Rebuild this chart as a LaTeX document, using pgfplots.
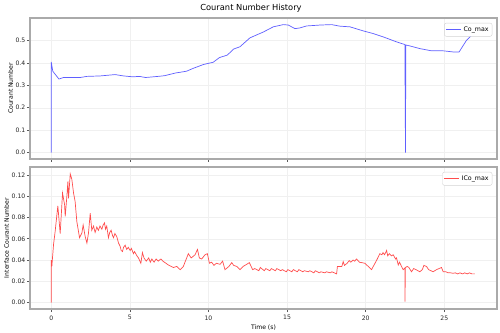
\documentclass[border=0pt]{standalone}
\usepackage{fontspec}
\setmainfont{DejaVu Sans}
\usepackage{pgfplots}
\pgfplotsset{compat=1.18}
\definecolor{coblue}{RGB}{95,95,255}
\definecolor{cored}{RGB}{255,77,77}
\definecolor{frame}{RGB}{170,170,170}
\pgfplotsset{
  base/.style={
    scale only axis,
    width=467pt,
    xmin=-1.35, xmax=28.35,
    xtick={0,5,10,15,20,25},
    axis line style={frame, line width=1.1pt},
    grid=major,
    major grid style={gray!12, line width=0.5pt},
    tick align=outside,
    xtick pos=bottom, ytick pos=left,
    major tick length=3pt,
    tick style={gray!70!black, line width=0.6pt},
    tick label style={font=\fontsize{6.1}{7}\selectfont, text=black!85},
    yticklabel style={inner sep=1.5pt},
    label style={font=\fontsize{6.1}{7}\selectfont},
    ylabel style={inner sep=1pt},
    /pgf/number format/assume math mode=true,
    legend style={at={(0.99,0.965)}, anchor=north east, draw=gray!35, rounded corners=2pt,
      font=\fontsize{6.3}{7}\selectfont, inner sep=1.5pt, row sep=0pt},
    legend cell align=left,
    legend image code/.code={\draw[#1] (0pt,0pt) -- (15pt,0pt);},
  }
}
\begin{document}
\begin{tikzpicture}
\useasboundingbox (0,0) rectangle (500pt,332pt);
\node[font=\fontsize{8.3}{10}\selectfont] at (251pt,324pt) {Courant Number History};
\begin{axis}[base,
  at={(30pt,173pt)}, anchor=south west,
  height=141pt,
  ymin=-0.0286, ymax=0.6005,
  ytick={0,0.1,0.2,0.3,0.4,0.5},
  yticklabel style={/pgf/number format/.cd, fixed, fixed zerofill, precision=1},
  xticklabels={},
  ylabel={Courant Number},
]
\addlegendimage{draw=coblue, line width=0.7pt}
\addlegendentry{Co\_max}
\addplot[draw=coblue, line width=0.7pt, forget plot] coordinates {
(0,0) (0,0.405) (0.1,0.363) (0.49,0.328) (0.78,0.335) (1.85,0.335) (2.27,0.340) (3.12,0.342)
(4.06,0.348) (4.6,0.342) (5.2,0.338) (5.6,0.340) (6.0,0.335) (6.8,0.340) (7.2,0.343) (7.9,0.355)
(8.6,0.363) (9.0,0.375) (9.68,0.393) (10.3,0.403) (10.7,0.424) (11.2,0.435) (11.6,0.462)
(12.0,0.472) (12.64,0.512) (13.49,0.538) (14.12,0.561) (14.76,0.571) (15.08,0.569) (15.5,0.553)
(15.8,0.556) (16.24,0.565) (17.09,0.569) (17.83,0.571) (18.36,0.564) (19.0,0.561) (19.84,0.543)
(20.48,0.531) (21.12,0.516) (21.96,0.494) (22.49,0.482) (22.53,0.0) (22.55,0.480) (22.8,0.476)
(23.44,0.464) (24.19,0.454) (24.93,0.454) (25.56,0.449) (25.94,0.449) (26.41,0.501) (26.9,0.535)
};
\end{axis}
\begin{axis}[base,
  at={(30pt,23pt)}, anchor=south west,
  height=142pt,
  ymin=-0.0060, ymax=0.1275,
  ytick={0,0.02,0.04,0.06,0.08,0.10,0.12},
  yticklabel style={/pgf/number format/.cd, fixed, fixed zerofill, precision=2},
  xticklabel style={/pgf/number format/.cd, fixed, precision=0},
  ylabel={Interface Courant Number},
  xlabel={Time (s)},
  xlabel style={inner sep=1pt},
]
\addlegendimage{draw=cored, line width=0.7pt}
\addlegendentry{ICo\_max}
\addplot[draw=cored, line width=0.7pt, forget plot] coordinates {
(0,0) (0,0.040) (0.04,0.034) (0.08,0.042) (0.15,0.055) (0.25,0.067) (0.42,0.091) (0.57,0.065)
(0.72,0.103) (0.85,0.092) (0.89,0.081) (1.0,0.101) (1.06,0.114) (1.1,0.098) (1.21,0.121)
(1.31,0.116) (1.42,0.103) (1.52,0.095) (1.63,0.076) (1.80,0.061) (1.95,0.0655) (2.03,0.073)
(2.16,0.062) (2.27,0.056) (2.37,0.0655) (2.48,0.084) (2.58,0.068) (2.69,0.072) (2.79,0.066)
(2.9,0.071) (3.0,0.068) (3.1,0.072) (3.22,0.069) (3.3,0.073) (3.39,0.075) (3.45,0.069)
(3.53,0.072) (3.64,0.061) (3.72,0.066) (3.81,0.068) (3.9,0.063) (3.96,0.061) (4.05,0.065)
(4.17,0.062) (4.28,0.056) (4.38,0.053) (4.45,0.049) (4.53,0.048) (4.60,0.052) (4.70,0.054)
(4.8,0.050) (4.9,0.052) (5.02,0.049) (5.1,0.051) (5.23,0.046) (5.3,0.048) (5.45,0.044)
(5.55,0.042) (5.70,0.037) (5.80,0.047) (5.9,0.042) (6.04,0.039) (6.2,0.042) (6.3,0.038)
(6.4,0.041) (6.54,0.038) (6.67,0.041) (6.8,0.039) (6.97,0.041) (7.1,0.039) (7.45,0.0354)
(7.77,0.033) (7.98,0.034) (8.2,0.031) (8.4,0.034) (8.72,0.046) (8.9,0.042) (9.15,0.045)
(9.30,0.050) (9.42,0.042) (9.57,0.041) (9.78,0.045) (9.93,0.046) (10.06,0.037) (10.2,0.038)
(10.35,0.035) (10.5,0.037) (10.74,0.036) (10.9,0.039) (11.05,0.031) (11.3,0.034) (11.48,0.0376)
(11.6,0.035) (11.8,0.034) (12.0,0.031) (12.2,0.034) (12.43,0.036) (12.6,0.0376) (12.81,0.031)
(12.95,0.032) (13.2,0.030) (13.3,0.033) (13.55,0.030) (13.65,0.032) (13.9,0.030) (14.0,0.032)
(14.25,0.030) (14.35,0.032) (14.6,0.030) (14.7,0.031) (14.95,0.029) (15.05,0.031) (15.3,0.029)
(15.4,0.031) (15.65,0.029) (15.75,0.031) (16.0,0.029) (16.1,0.030) (16.35,0.029) (16.45,0.030)
(16.7,0.028) (16.8,0.030) (17.05,0.028) (17.15,0.029) (17.4,0.028) (17.5,0.029) (17.75,0.028)
(17.85,0.029) (18.15,0.027) (18.2,0.034) (18.48,0.034) (18.57,0.0386) (18.65,0.035) (18.82,0.037)
(18.95,0.0395) (19.05,0.038) (19.2,0.040) (19.3,0.039) (19.42,0.041) (19.6,0.038) (19.95,0.037)
(20.37,0.031) (20.7,0.040) (20.9,0.046) (21.03,0.045) (21.1,0.047) (21.2,0.045) (21.33,0.049)
(21.4,0.044) (21.5,0.046) (21.64,0.044) (21.75,0.045) (21.9,0.041) (21.96,0.042) (22.07,0.0354)
(22.15,0.038) (22.28,0.034) (22.38,0.031) (22.49,0.0325) (22.50,0.001) (22.52,0.033) (22.64,0.034)
(22.75,0.033) (22.91,0.029) (23.05,0.032) (23.2,0.031) (23.44,0.029) (23.6,0.031) (23.7,0.035)
(23.87,0.034) (24.0,0.031) (24.29,0.029) (24.5,0.031) (24.82,0.033) (24.93,0.029) (25.1,0.029)
(25.24,0.028) (25.4,0.028) (25.56,0.0276) (25.7,0.028) (25.85,0.027) (26.0,0.028) (26.15,0.027)
(26.3,0.028) (26.45,0.027) (26.6,0.028) (26.75,0.027) (26.94,0.027)
};
\end{axis}
\end{tikzpicture}
\end{document}
